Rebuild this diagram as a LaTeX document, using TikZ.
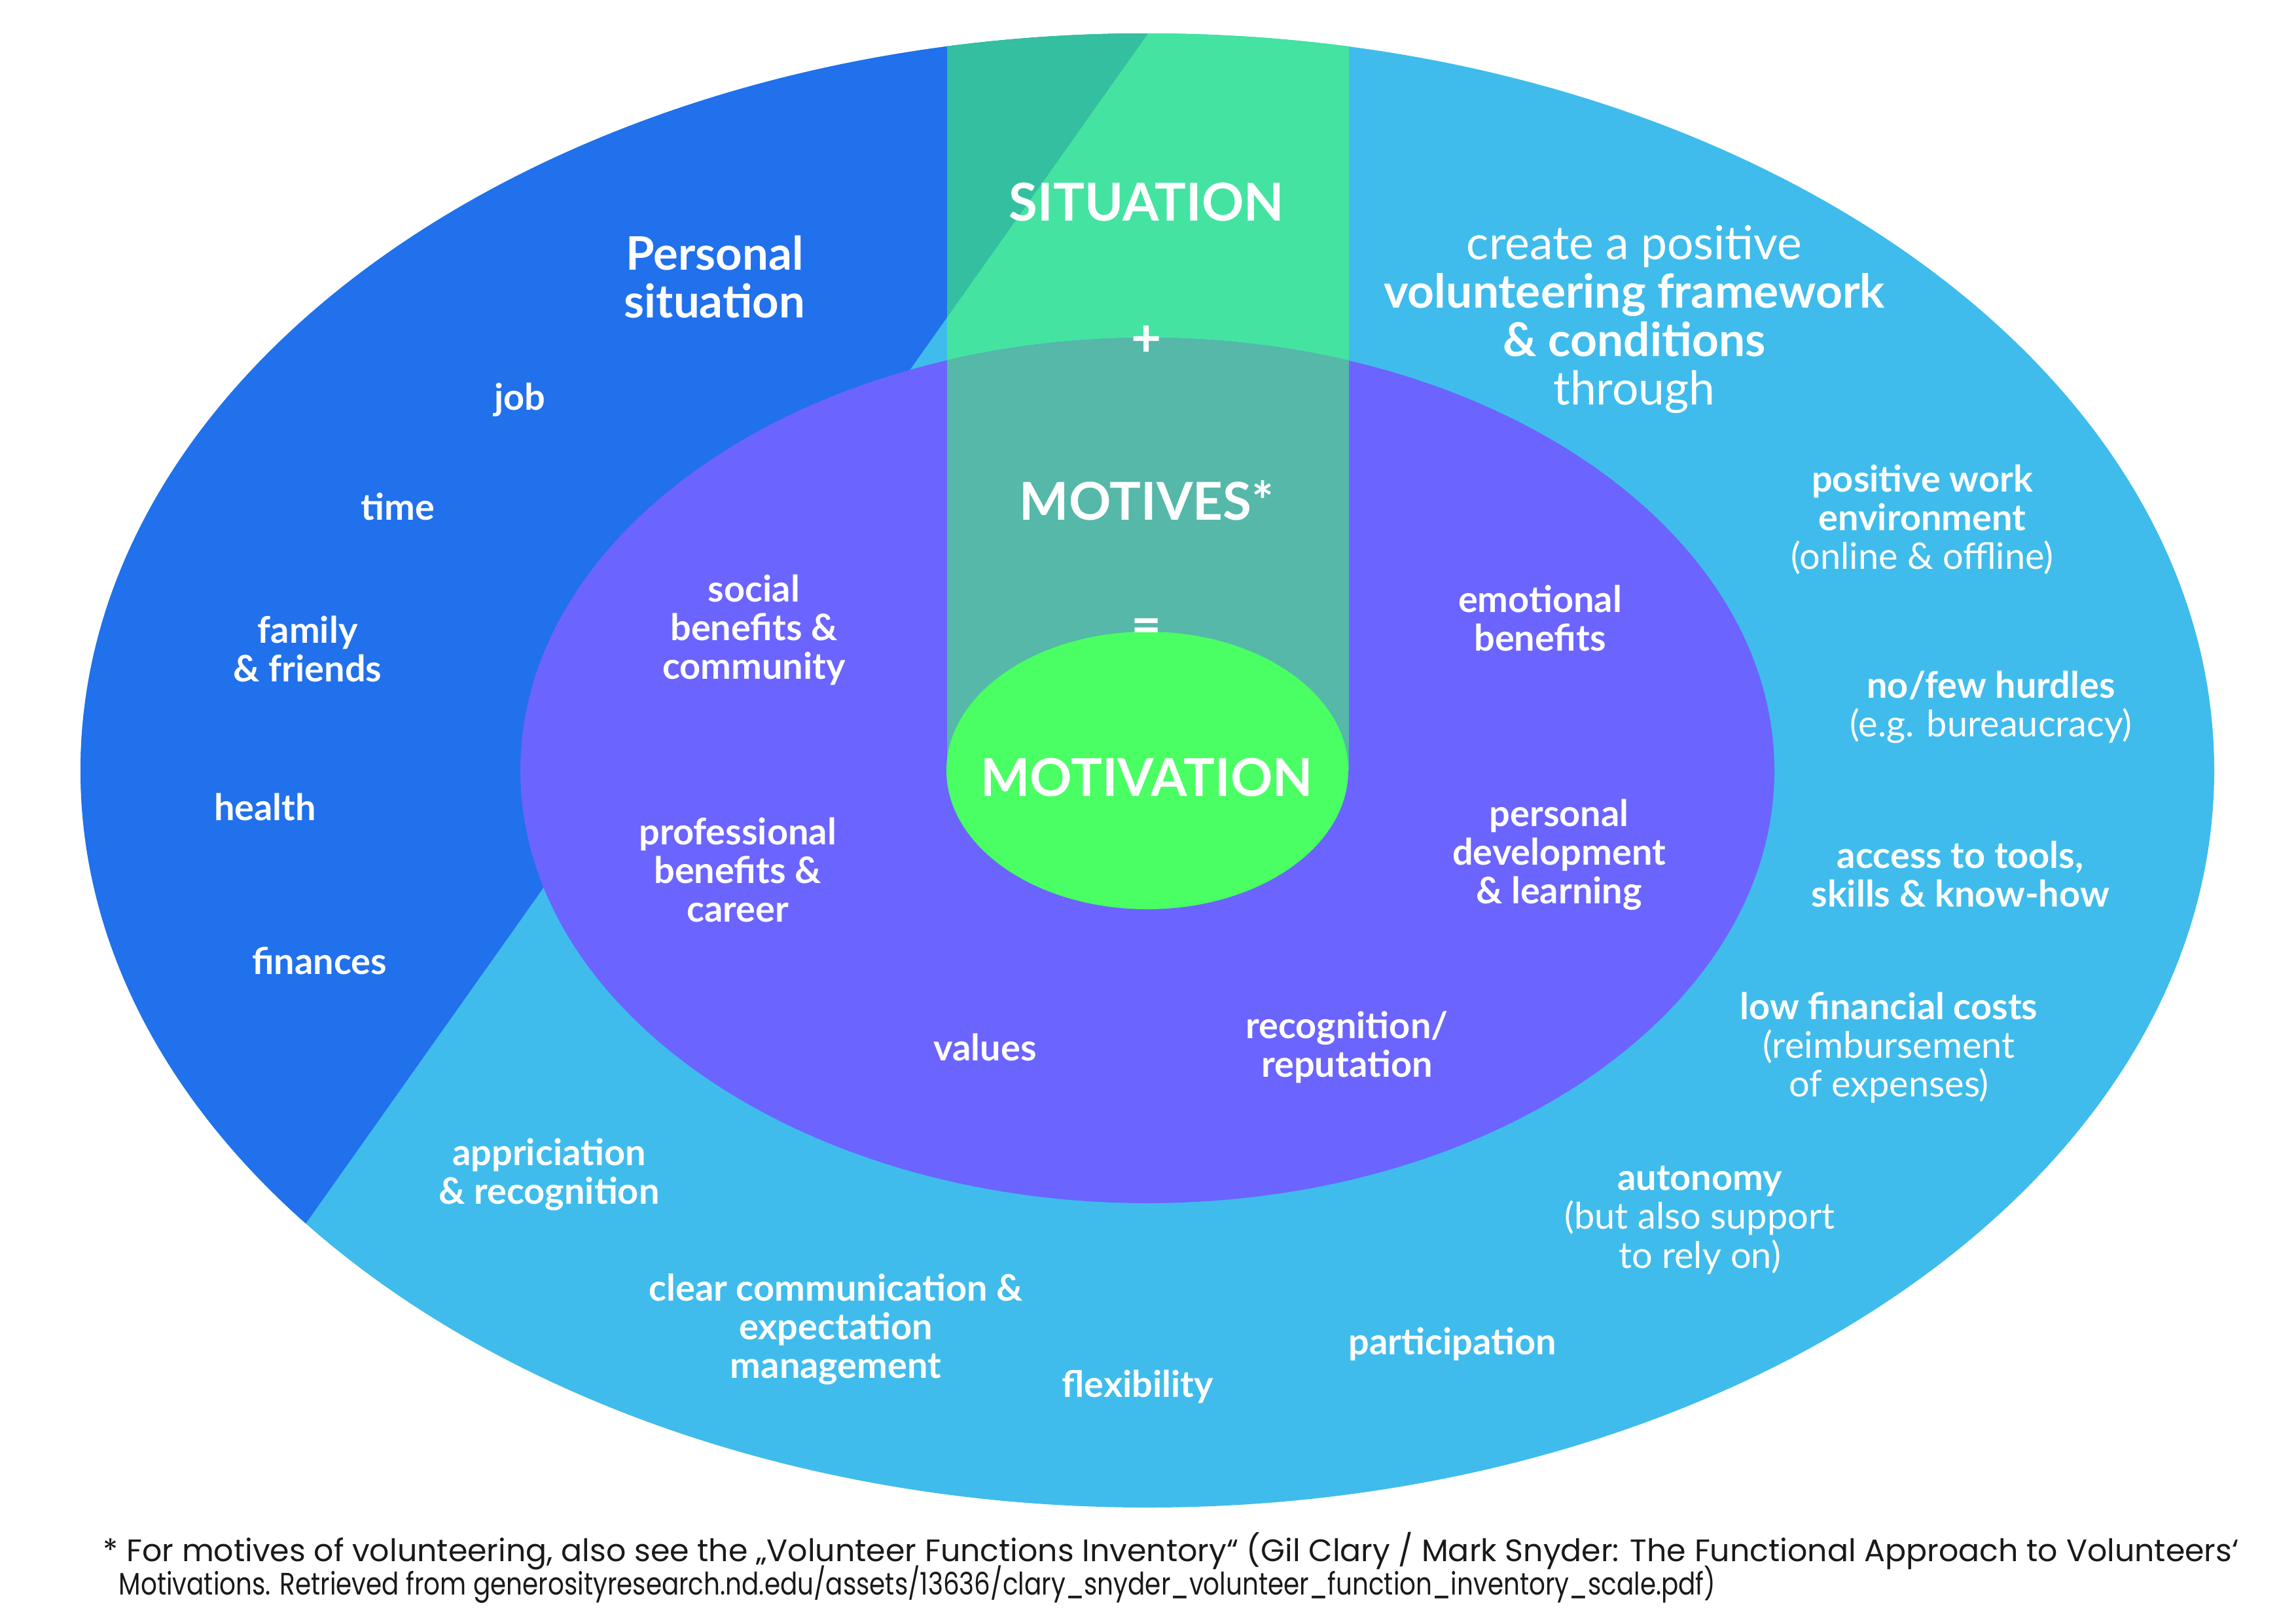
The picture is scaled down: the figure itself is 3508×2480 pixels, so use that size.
\documentclass[tikz,border=0pt]{standalone}
\usepackage{fontspec}
\usepackage{graphicx}
\setmainfont{Lato}
\newfontfamily\footfont{Poppins}
\definecolor{lblue}{HTML}{3FBCEC}
\definecolor{dblue}{HTML}{2170EC}
\definecolor{purp}{HTML}{6B64FF}
\definecolor{stripg}{HTML}{44E3A1}
\definecolor{stripd}{HTML}{34BFA0}
\definecolor{stripp}{HTML}{55B8A8}
\definecolor{gcore}{HTML}{4AFF63}
\tikzset{
  lab/.style={text=white, font=\bfseries\fontsize{15.9}{16.8}\selectfont, align=center, inner sep=0pt},
  big/.style={text=white, font=\bfseries\fontsize{22.7}{24}\selectfont, align=center, inner sep=0pt},
  head/.style={text=white, font=\bfseries\fontsize{20.1}{21}\selectfont, align=center, inner sep=0pt},
  headr/.style={text=white, font=\fontsize{20.3}{21}\selectfont, align=center, inner sep=0pt},
  foot/.style={text=black!90, font=\footfont\fontsize{13.5}{14.6}\selectfont, align=left, inner sep=0pt, anchor=base west}
}
\begin{document}
\begin{tikzpicture}[x=0.1mm,y=-0.1mm]
\useasboundingbox (0,0) rectangle (3508,2480);
\coordinate (c) at (1753,1177);
% outer ellipse
\fill[lblue] (c) ellipse [x radius=1630, y radius=1126];
\begin{scope}
  \clip (c) ellipse [x radius=1630, y radius=1126];
  \fill[dblue] (1880,-127) -- (187,2265) -- (-100,2265) -- (-100,-127) -- cycle;
  \fill[stripg] (1447,0) rectangle (2061,1177);
  \begin{scope}
    \clip (1880,-127) -- (187,2265) -- (-100,2265) -- (-100,-127) -- cycle;
    \fill[stripd] (1447,0) rectangle (2061,1177);
  \end{scope}
\end{scope}
% inner ellipse
\fill[purp] (c) ellipse [x radius=958, y radius=661];
\begin{scope}
  \clip (c) ellipse [x radius=958, y radius=661];
  \fill[stripp] (1447,0) rectangle (2061,1177);
\end{scope}
% core
\fill[gcore] (c) ellipse [x radius=307, y radius=212];

% central column
\node[big] (sit) at (1752,309) {SITUATION};
\node[big] (plus) at (1752,521) {+};
\node[big] (mot) at (1752,765) {MOTIVES*};
\node[big] (eq) at (1752,964) {=};
\node[big] (motiv) at (1752,1188) {MOTIVATION};

% personal situation
\node[head] (pers) at (1092,423) {Personal\\situation};
\node[lab] (job) at (794,611) {job};
\node[lab] (time) at (608,774) {time};
\node[lab] (fam) at (470,991) {family\\\& friends};
\node[lab] (health) at (405,1233) {health};
\node[lab] (fin) at (488,1468) {finances};

% motives
\node[lab] (soc) at (1152,962) {social\\benefits \&\\community};
\node[lab] (prof) at (1127,1329) {professional\\benefits \&\\career};
\node[lab] (val) at (1505,1600) {values};
\node[lab] (rec) at (2058,1600) {recognition/\\reputation};
\node[lab] (emo) at (2353,944) {emotional\\benefits};
\node[lab] (dev) at (2382,1306) {personal\\development\\\& learning};

% framework
\node[headr] (frame) at (2497,488) {create a positive\\{\bfseries volunteering framework}\\{\bfseries \& conditions}\\through};
\node[lab] (work) at (2937,794) {positive work\\environment\\{\mdseries (online \& offline)}};
\node[lab] (hurd) at (3042,1080) {no/few hurdles\\{\mdseries (e.g. bureaucracy)}};
\node[lab] (tools) at (2995,1335) {access to tools,\\skills \& know-how};
\node[lab] (cost) at (2886,1600) {low financial costs\\{\mdseries (reimbursement}\\{\mdseries of expenses)}};
\node[lab] (auto) at (2597,1864) {autonomy\\{\mdseries (but also support}\\{\mdseries to rely on)}};
\node[lab] (part) at (2219,2053) {participation};
\node[lab] (flex) at (1738,2118) {flexibility};
\node[lab] (comm) at (1277,2031) {clear communication \&\\expectation\\management};
\node[lab] (appr) at (839,1794) {appriciation\\\& recognition};

% footnote
\node[foot] (fn1) at (157,2385) {* For motives of volunteering, also see the „Volunteer Functions Inventory“ (Gil Clary / Mark Snyder: The Functional Approach to Volunteers‘};
\node[foot] (fn2) at (181,2436) {\scalebox{0.82}[1]{Motivations. Retrieved from generosityresearch.nd.edu/assets/13636/clary\_snyder\_volunteer\_function\_inventory\_scale.pdf)}};
\end{tikzpicture}
\end{document}
